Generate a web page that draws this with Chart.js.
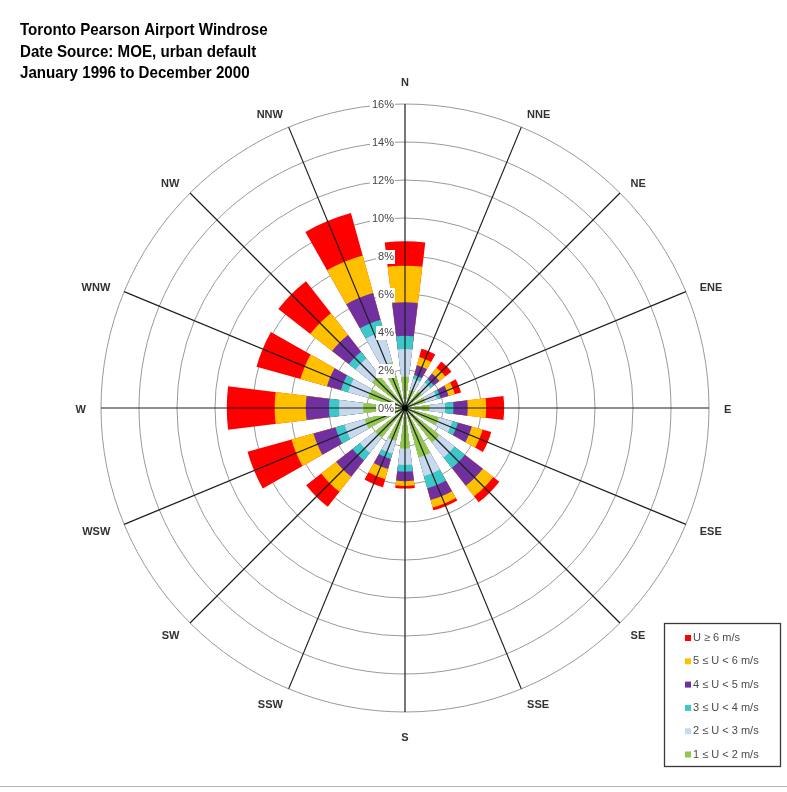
<!DOCTYPE html>
<html>
<head>
<meta charset="utf-8">
<title>Toronto Pearson Airport Windrose</title>
<script src="https://cdn.jsdelivr.net/npm/chart.js@4.4.1/dist/chart.umd.min.js"></script>
<style>
  html, body { margin: 0; padding: 0; background: #ffffff; }
  #frame { position: relative; width: 787px; height: 792px; overflow: hidden; }
  #frame::after { content: ''; position: absolute; left: 0; right: 0; top: 786px; height: 1px; background: #b4b4b4; }
  canvas { display: block; }
</style>
</head>
<body>
<div id="frame"><canvas id="rose" width="787" height="792"></canvas></div>
<script>
// Compass sectors, clockwise from north
const directions = ['N', 'NNE', 'NE', 'ENE', 'E', 'ESE', 'SE', 'SSE',
                    'S', 'SSW', 'SW', 'WSW', 'W', 'WNW', 'NW', 'NNW'];

// Title lines
const titleLines = [
  'Toronto Pearson Airport Windrose',
  'Date Source: MOE, urban default',
  'January 1996 to December 2000'
];

// Wind speed classes, slowest first (innermost band first)
const speedClasses = ['1 \u2264 U < 2 m/s', '2 \u2264 U < 3 m/s', '3 \u2264 U < 4 m/s',
                      '4 \u2264 U < 5 m/s', '5 \u2264 U < 6 m/s', 'U \u2265 6 m/s'];
const classColors = ['#92C84A', '#C6D9EE', '#3CC8C8', '#7030A0', '#FFC000', '#FF0000'];

// Frequency (% of hours) of each speed class for each direction, N..NNW
const speed1to2 = [1.65, 1.00, 1.10, 1.10, 1.30, 1.84, 2.30, 2.70, 2.13, 1.80, 2.00, 2.20, 2.20, 2.00, 2.20, 2.50];
const speed2to3 = [1.45, 0.60, 0.60, 0.65, 0.81, 0.75, 1.00, 1.02, 0.87, 0.69, 1.00, 1.10, 1.27, 1.10, 1.10, 1.69];
const speed3to4 = [0.70, 0.20, 0.22, 0.19, 0.44, 0.30, 0.70, 0.66, 0.36, 0.29, 0.50, 0.50, 0.53, 0.40, 0.45, 0.63];
const speed4to5 = [1.76, 0.54, 0.38, 0.44, 0.75, 0.76, 1.20, 0.65, 0.49, 0.55, 1.10, 1.20, 1.22, 0.76, 1.12, 1.46];
const speed5to6 = [1.93, 0.44, 0.39, 0.34, 0.97, 0.59, 0.70, 0.41, 0.25, 0.56, 1.00, 1.20, 1.64, 1.45, 1.46, 2.05];
const speed6up  = [1.29, 0.46, 0.41, 0.34, 0.95, 0.47, 0.40, 0.15, 0.14, 0.44, 1.00, 2.40, 2.52, 2.40, 2.13, 2.32];

const classSeries = [speed1to2, speed2to3, speed3to4, speed4to5, speed5to6, speed6up];

// Radial axis: 0% .. 16% every 2%
const radialMax = 16;
const radialStep = 2;

// Angular layout of one sector (degrees): the petal and the gap beside it
const petalAngle = 14;
const gapAngle = 360 / directions.length - petalAngle;

// Polar-area arcs start at north and run clockwise. Each petal is centred on
// its spoke, so the north petal is split into two halves (first and last arc)
// and every other petal is preceded by a gap arc of zero value.
function arcLayout(values) {
  const data = [values[0]];
  const angles = [petalAngle / 2];
  for (let i = 1; i < values.length; i++) {
    data.push(0, values[i]);
    angles.push(gapAngle, petalAngle);
  }
  data.push(0, values[0]);
  angles.push(gapAngle, petalAngle / 2);
  return { data, angles };
}

// Cumulative outer edge of every band
const cumulative = [];
classSeries.forEach((series, k) => {
  cumulative.push(series.map((v, i) => +(v + (k ? cumulative[k - 1][i] : 0)).toFixed(2)));
});

// Datasets listed innermost first: Chart.js paints the last dataset first,
// so the outer bands are laid down and the inner ones are painted over them.
const datasets = cumulative.map((edges, k) => {
  const layout = arcLayout(edges);
  return {
    label: speedClasses[k],
    data: layout.data,
    angle: layout.angles,
    backgroundColor: classColors[k],
    borderWidth: 0
  };
});

const sans = '"Liberation Sans", Arial, sans-serif';

// draw text squeezed horizontally (condensed face look)
function condensedText(ctx, text, x, y, squeeze) {
  ctx.save();
  ctx.translate(x, y);
  ctx.scale(squeeze, 1);
  ctx.fillText(text, 0, 0);
  ctx.restore();
}

// Spokes, direction names, ring labels, title and legend box
const roseDecor = {
  id: 'roseDecor',
  afterDatasetsDraw(chart) {
    const r = chart.scales.r;
    const ctx = chart.ctx;
    const cx = r.xCenter, cy = r.yCenter;
    ctx.save();

    // spokes on top of the petals
    ctx.strokeStyle = '#1e1e1e';
    ctx.lineWidth = 1.2;
    directions.forEach((d, i) => {
      const p = r.getPointPositionForValue(i, radialMax);
      ctx.beginPath();
      ctx.moveTo(cx, cy);
      ctx.lineTo(p.x, p.y);
      ctx.stroke();
    });
    ctx.fillStyle = '#000';
    ctx.beginPath();
    ctx.arc(cx, cy, 3, 0, Math.PI * 2);
    ctx.fill();

    // direction names outside the outer ring
    ctx.font = 'bold 11px ' + sans;
    ctx.fillStyle = '#333';
    ctx.textBaseline = 'middle';
    directions.forEach((d, i) => {
      const a = r.getIndexAngle(i);
      const p = r.getPointPosition(i, r.drawingArea + 15);
      const s = Math.sin(a), c = Math.cos(a);
      const onAxis = Math.abs(s) < 0.01;
      ctx.textAlign = onAxis ? 'center' : (s > 0 ? 'left' : 'right');
      ctx.fillText(d, p.x, p.y + 2 - (onAxis ? c * 8.5 : 0));
    });

    // ring labels left of the north spoke, on a white backdrop
    ctx.font = '11px ' + sans;
    ctx.textAlign = 'right';
    r.ticks.forEach(t => {
      const y = cy - r.getDistanceFromCenterForValue(t.value) + 1;
      const txt = t.value + '%';
      const w = ctx.measureText(txt).width;
      const xr = cx - 11;
      ctx.fillStyle = '#fff';
      ctx.fillRect(xr - w - 2, y - 7, w + 3, 14);
      ctx.fillStyle = '#444';
      ctx.fillText(txt, xr, y);
    });

    // title
    ctx.font = 'bold 17px ' + sans;
    ctx.fillStyle = '#000';
    ctx.textAlign = 'left';
    ctx.textBaseline = 'alphabetic';
    titleLines.forEach((line, i) => condensedText(ctx, line, 20, 35 + i * 21.7, 0.89));

    // legend, fastest class on top
    const box = { x: 664.5, y: 623.5, w: 116, h: 143 };
    ctx.strokeStyle = '#3a3a3a';
    ctx.lineWidth = 1.3;
    ctx.strokeRect(box.x, box.y, box.w, box.h);
    ctx.font = '11px ' + sans;
    ctx.textBaseline = 'middle';
    const n = chart.data.datasets.length;
    for (let j = 0; j < n; j++) {
      const ds = chart.data.datasets[n - 1 - j];
      const y = 638 + j * 23.3;
      ctx.fillStyle = ds.backgroundColor;
      ctx.fillRect(685, y - 3, 6, 6);
      ctx.fillStyle = '#4a4a4a';
      ctx.fillText(ds.label, 693, y);
    }
    ctx.restore();
  }
};

new Chart(document.getElementById('rose'), {
  type: 'polarArea',
  data: { labels: directions, datasets },
  options: {
    responsive: false,
    animation: false,
    events: [],
    layout: { padding: { left: 101, right: 78, top: 104, bottom: 80 } },
    plugins: { legend: { display: false }, tooltip: { enabled: false }, title: { display: false } },
    scales: {
      r: {
        min: 0,
        max: radialMax,
        startAngle: 0,
        ticks: { display: false, stepSize: radialStep },
        grid: { circular: true, color: '#999999', lineWidth: 1 },
        angleLines: { display: false },
        pointLabels: { display: false }
      }
    }
  },
  plugins: [roseDecor]
});
</script>
</body>
</html>
